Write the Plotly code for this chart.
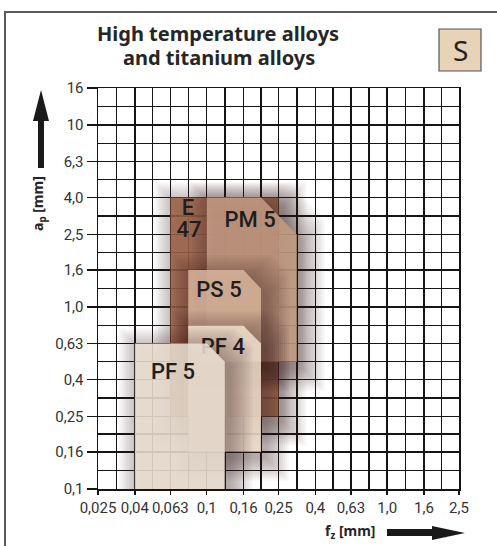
import math
import plotly.graph_objects as go

# ---------------- data ----------------
X_TICKS = [0.025, 0.04, 0.063, 0.1, 0.16, 0.25, 0.4, 0.63, 1.0, 1.6, 2.5]
X_LABELS = ["0,025", "0,04", "0,063", "0,1", "0,16", "0,25", "0,4", "0,63", "1,0", "1,6", "2,5"]
Y_TICKS = [0.1, 0.16, 0.25, 0.4, 0.63, 1.0, 1.6, 2.5, 4.0, 6.3, 10, 16]
Y_LABELS = ["0,1", "0,16", "0,25", "0,4", "0,63", "1,0", "1,6", "2,5", "4,0", "6,3", "10", "16"]

REGION_NAMES = ["E 47", "PM 5", "PS 5", "PF 4", "PF 5"]
FZ_MIN = [0.063, 0.1, 0.079, 0.079, 0.04]
FZ_MAX = [0.25, 0.316, 0.2, 0.2, 0.126]
AP_MIN = [0.25, 0.5, 0.5, 0.16, 0.1]
AP_MAX = [4.0, 4.0, 1.6, 0.79, 0.63]
FZ_BEVEL = [0.25, 0.2, 0.16, 0.16, 0.1]     # where the top edge bevel starts
AP_BEVEL = [4.0, 2.5, 1.26, 0.63, 0.5]      # where the bevel meets the right edge

# label anchors (data coordinates)
LABELS = [
    [("E", 0.0788, 3.43), ("47", 0.0797, 2.60)],
    [("PM 5", 0.174, 2.94)],
    [("PS 5", 0.117, 1.216)],
    [("PF 4", 0.123, 0.592)],
    [("PF 5", 0.0651, 0.4316)],
]

FILLS = ["rgba(153,94,67,0.86)", "rgba(196,156,131,0.86)", "rgba(218,181,157,0.86)",
         "rgba(240,224,205,0.86)", "rgba(237,226,212,0.86)"]

# ---------------- geometry helpers ----------------
L, R, T, B = 98, 38, 88, 57
W, H = 497, 546
PW, PH = W - L - R, H - T - B
XR = [math.log10(0.025), math.log10(2.5)]
YR = [math.log10(0.1), math.log10(16)]
KX = (XR[1] - XR[0]) / PW   # decades per pixel
KY = (YR[1] - YR[0]) / PH


def px2paper_x(px):
    return (px - L) / PW


def px2paper_y(py):
    return (H - B - py) / PH


def polygon(i, grow=0.0, dx=0.0, dy=0.0):
    gx = 10 ** (grow * KX)
    gy = 10 ** (grow * KY)
    ox = 10 ** (dx * KX)
    oy = 10 ** (-dy * KY)
    x0, x1 = FZ_MIN[i] / gx, FZ_MAX[i] * gx
    y0, y1 = AP_MIN[i] / gy, AP_MAX[i] * gy
    xb, yb = FZ_BEVEL[i] * gx, AP_BEVEL[i] * gy
    xs = [x0, x0, xb, x1, x1, x0]
    ys = [y0, y1, y1, yb, y0, y0]
    return [v * ox for v in xs], [v * oy for v in ys]


fig = go.Figure()

for i, name in enumerate(REGION_NAMES):
    # soft drop shadow (stacked translucent layers)
    for r in range(22, -1, -2):
        xs, ys = polygon(i, grow=r, dx=6, dy=7)
        fig.add_trace(go.Scatter(x=xs, y=ys, mode="lines", fill="toself",
                                 fillcolor="rgba(45,32,25,0.035)", line=dict(width=0),
                                 hoverinfo="skip", showlegend=False))
    xs, ys = polygon(i)
    fig.add_trace(go.Scatter(x=xs, y=ys, mode="lines", fill="toself",
                             fillcolor=FILLS[i], line=dict(width=0),
                             hoverinfo="skip", showlegend=False, name=name))
    fig.add_trace(go.Scatter(
        x=[p[1] for p in LABELS[i]], y=[p[2] for p in LABELS[i]],
        text=[p[0] for p in LABELS[i]], mode="text",
        textfont=dict(family="Roboto, Noto Sans, sans-serif", size=22, color="#1e1e1e", weight=500),
        hoverinfo="skip", showlegend=False))

# minor grid positions (geometric midpoints)
x_minor = [math.sqrt(a * b) for a, b in zip(X_TICKS[:-1], X_TICKS[1:])]
y_minor = [math.sqrt(a * b) for a, b in zip(Y_TICKS[:-1], Y_TICKS[1:])]

tickfont = dict(family="Liberation Sans Narrow, Roboto, sans-serif", size=15, color="#333333")
gridc = "#151515"

fig.update_xaxes(type="log", range=XR, tickmode="array", tickvals=X_TICKS, ticktext=X_LABELS,
                 ticks="outside", ticklen=4, tickwidth=1.5, tickcolor=gridc,
                 showgrid=True, gridcolor=gridc, gridwidth=1.5,
                 minor=dict(tickmode="array", tickvals=x_minor, showgrid=True,
                            gridcolor=gridc, gridwidth=1.5, ticks=""),
                 showline=True, linecolor=gridc, linewidth=1.5, mirror=True,
                 zeroline=False, tickfont=tickfont, fixedrange=True)
fig.update_yaxes(type="log", range=YR, tickmode="array", tickvals=Y_TICKS, ticktext=Y_LABELS,
                 ticks="outside", ticklen=10, tickwidth=1.5, tickcolor=gridc,
                 showgrid=True, gridcolor=gridc, gridwidth=1.5,
                 minor=dict(tickmode="array", tickvals=y_minor, showgrid=True,
                            gridcolor=gridc, gridwidth=1.5, ticks=""),
                 showline=True, linecolor=gridc, linewidth=1.5, mirror=True,
                 zeroline=False, tickfont=tickfont, fixedrange=True)

shapes = []
# outer frame (left and top)
frame_c = "#5a5a5a"
shapes.append(dict(type="line", xref="paper", yref="paper", x0=px2paper_x(5), x1=px2paper_x(5),
                   y0=px2paper_y(12), y1=px2paper_y(H + 2), line=dict(color=frame_c, width=2)))
shapes.append(dict(type="line", xref="paper", yref="paper", x0=px2paper_x(4), x1=px2paper_x(W + 2),
                   y0=px2paper_y(12), y1=px2paper_y(12), line=dict(color=frame_c, width=2)))
# S box
shapes.append(dict(type="rect", xref="paper", yref="paper", x0=px2paper_x(439), x1=px2paper_x(481),
                   y0=px2paper_y(71), y1=px2paper_y(29), fillcolor="#e8d3b9",
                   line=dict(color="#555555", width=1.2)))


def path(points):
    return "M " + " L ".join(f"{px2paper_x(a):.5f},{px2paper_y(b):.5f}" for a, b in points) + " Z"


# y arrow (up)
shapes.append(dict(type="path", xref="paper", yref="paper", line=dict(width=0), fillcolor="#1a1a1a",
                   path=path([(38, 168), (38, 121), (33, 121), (41, 90), (49, 121), (44, 121), (44, 168)])))
# x arrow (right)
shapes.append(dict(type="path", xref="paper", yref="paper", line=dict(width=0), fillcolor="#1a1a1a",
                   path=path([(387, 529), (432, 529), (432, 526), (465, 533), (432, 540), (432, 536), (387, 536)])))

ann = []
title_font = dict(family="Noto Sans, Open Sans, sans-serif", size=20, color="#262626")
ann.append(dict(text="<b>High temperature alloys</b>", xref="paper", yref="paper",
                x=px2paper_x(218), y=px2paper_y(34), xanchor="center", yanchor="middle",
                showarrow=False, font=title_font))
ann.append(dict(text="<b>and titanium alloys</b>", xref="paper", yref="paper",
                x=px2paper_x(219), y=px2paper_y(57), xanchor="center", yanchor="middle",
                showarrow=False, font=title_font))
ann.append(dict(text="S", xref="paper", yref="paper", x=px2paper_x(460), y=px2paper_y(50),
                xanchor="center", yanchor="middle", showarrow=False,
                font=dict(family="Noto Sans, Open Sans, sans-serif", size=28, color="#222222")))
ann.append(dict(text="<b>f<sub>z</sub> [mm]</b>", xref="paper", yref="paper",
                x=px2paper_x(350), y=px2paper_y(531), xanchor="center", yanchor="middle",
                showarrow=False, font=dict(family="Noto Sans, Open Sans, sans-serif", size=14, color="#262626")))
ann.append(dict(text="<b>a<sub>p</sub> [mm]</b>", xref="paper", yref="paper", textangle=-90,
                x=px2paper_x(38), y=px2paper_y(204), xanchor="center", yanchor="middle",
                showarrow=False, font=dict(family="Noto Sans, Open Sans, sans-serif", size=14, color="#262626")))

fig.update_layout(width=W, height=H, autosize=False,
                  margin=dict(l=L, r=R, t=T, b=B, pad=0),
                  paper_bgcolor="white", plot_bgcolor="white",
                  shapes=shapes, annotations=ann, showlegend=False)

fig.write_html("out.html", config={"displayModeBar": False, "staticPlot": True},
               post_script="document.body.style.margin='0';")
